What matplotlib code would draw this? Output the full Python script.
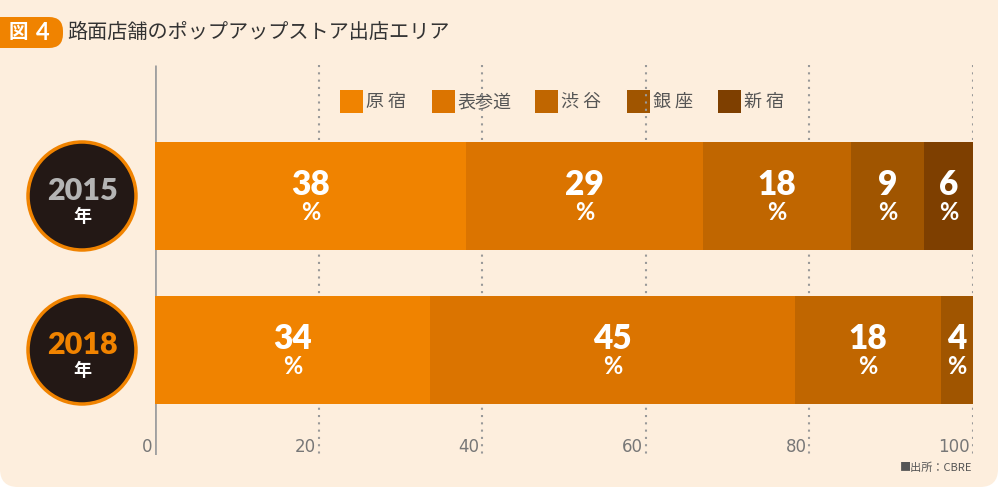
import matplotlib
matplotlib.use("Agg")
import matplotlib.pyplot as plt
from matplotlib.patches import FancyBboxPatch, Circle, Rectangle
from matplotlib import transforms

plt.rcParams['font.family'] = ['Noto Sans CJK JP', 'DejaVu Sans']

# ---- data ----
title = "路面店舗のポップアップストア出店エリア"
fig_label = "図"
fig_num = "4"
areas = ["原 宿", "表参道", "渋 谷", "銀 座", "新 宿"]
colors = ["#F08300", "#DB7400", "#C06600", "#A05500", "#7E3F00"]
years = ["2015", "2018"]
share_2015 = [38.0, 29.0, 18.1, 8.9, 6.0]
share_2018 = [33.6, 44.6, 17.9, 3.9, 0.0]
ticks = [0, 20, 40, 60, 80, 100]
source = "■出所：CBRE"

bg = "#FDEEDD"
dark = "#231815"
year_colors = ["#B4B4B4", "#F08300"]

fig = plt.figure(figsize=(10, 5), dpi=100, facecolor="white")

# background axes in pixel coordinates
axb = fig.add_axes([0, 0, 1, 1], zorder=0)
axb.set_xlim(0, 1000)
axb.set_ylim(500, 0)
axb.axis("off")
axb.add_patch(FancyBboxPatch((0, -40), 998, 527, boxstyle="round,pad=0,rounding_size=18",
                             facecolor=bg, edgecolor="none"))
axb.add_patch(FancyBboxPatch((-30, 17), 93, 31, boxstyle="round,pad=0,rounding_size=14",
                             facecolor="#F08300", edgecolor="none"))
axb.text(18, 33, fig_label, color="white", fontsize=14, fontweight="bold", ha="center", va="center")
axb.text(43, 33, fig_num, color="white", fontsize=17, fontweight="bold", ha="center", va="center",
         family=["Lato", "DejaVu Sans"])
axb.text(67, 33, title, color="#333333", fontsize=14.5, ha="left", va="center")

# legend
leg_x = [340, 432, 535, 627, 718]
for x, name, c in zip(leg_x, areas, colors):
    axb.add_patch(Rectangle((x, 90), 23, 23, facecolor=c, edgecolor="none"))
    axb.text(x + 26, 102, name, color="#555555", fontsize=13, ha="left", va="center")

# year circles
circle_y = [196, 350]
for cy, yr, yc in zip(circle_y, years, year_colors):
    axb.add_patch(Circle((82, cy), 54, facecolor=dark, edgecolor="#F08300", linewidth=2.5))
    axb.text(82, cy - 5, yr, color=yc, fontsize=22, fontweight="heavy", ha="center", va="center",
             family=["Lato", "DejaVu Sans"])
    axb.text(82, cy + 21, "年", color="white", fontsize=13, fontweight="bold", ha="center", va="center")

axb.text(972, 468, source, color="#555555", fontsize=8, ha="right", va="center")

# bar axes
ax = fig.add_axes([155 / 1000, 45 / 500, 818 / 1000, 390 / 500], zorder=1)
ax.set_facecolor("none")
ax.set_xlim(0, 100)
ax.set_ylim(390, 0)
ax.axis("off")

ax.vlines(ticks[1:], 0, 390, colors="#999999", linestyles=(0, (1, 2.5)), linewidth=1.5, zorder=1)
ax.vlines([0], 0, 390, colors="#A0A0A0", linewidth=2, zorder=1)

bar_y = [131, 285]
bar_h = 108
for yy, shares in zip(bar_y, [share_2015, share_2018]):
    left = 0
    for s, c in zip(shares, colors):
        if s <= 0:
            continue
        ax.barh(yy, s, left=left, height=bar_h, color=c, edgecolor="none", zorder=2)
        cx = left + s / 2
        ax.text(cx, yy - 11, f"{round(s)}", color="white", fontsize=24, fontweight="heavy",
                ha="center", va="center", family=["Lato", "DejaVu Sans"], zorder=3)
        ax.text(cx, yy + 17, "%", color="white", fontsize=17, fontweight="bold",
                ha="center", va="center", family=["Lato", "DejaVu Sans"], zorder=3)
        left += s

off = transforms.offset_copy(ax.transData, fig=fig, x=-3, y=0, units="dots")
for t in ticks:
    ax.text(t, 382, str(t), color="#777777", fontsize=12, ha="right", va="center",
            family=["Liberation Sans Narrow", "DejaVu Sans"], transform=off)

fig.savefig("out.png", dpi=100, facecolor="white")
